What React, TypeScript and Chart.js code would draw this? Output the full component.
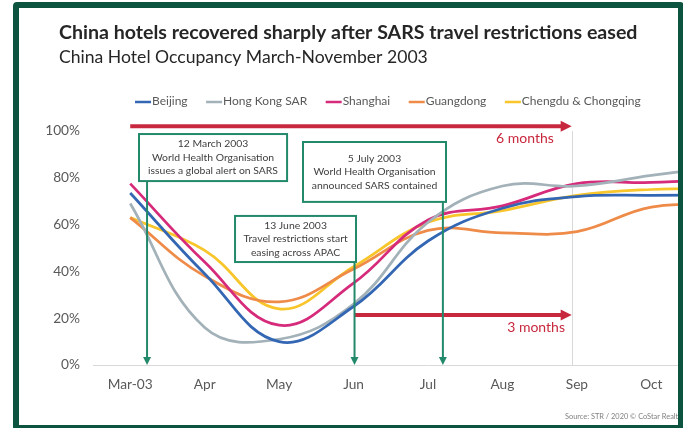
import React, { useEffect, useRef } from 'react';
import { Chart, registerables } from 'chart.js';

Chart.register(...registerables);

// ---------------- data ----------------
const months = ['Mar-03', 'Apr', 'May', 'Jun', 'Jul', 'Aug', 'Sep', 'Oct', 'Nov'];
const beijing = [73.5, 39, 10, 25, 53, 67, 72, 72.5, 72.6];
const hongKong = [69, 16, 11, 26, 61, 76.5, 76.5, 81, 85];
const shanghai = [77.5, 44, 17, 35, 62, 68, 77.5, 78, 79.5];
const guangdong = [63, 38, 27, 41, 57.5, 56.5, 57, 67.5, 68];
const chengdu = [63, 49, 24, 42, 61, 66, 72.5, 75, 75.5];
const seriesNames = ['Beijing', 'Hong Kong SAR', 'Shanghai', 'Guangdong', 'Chengdu & Chongqing'];
const seriesValues = [beijing, hongKong, shanghai, guangdong, chengdu];
const yTickStep = 20;

const titleText = 'China hotels recovered sharply after SARS travel restrictions eased';
const subtitleText = 'China Hotel Occupancy March-November 2003';
const sourceText = 'Source: STR / 2020 \u00a9 CoStar Realty Information, Inc.';

// event notes: [x (category index), y (%)] anchors
const noteLines = [
  ['12 March 2003', 'World Health Organisation', 'issues a global alert on SARS'],
  ['5 July 2003', 'World Health Organisation', 'announced SARS contained'],
  ['13 June 2003', 'Travel restrictions start', 'easing across APAC'],
];
const noteBoxes = [
  { x1: 0.118, y1: 98.7, x2: 2.107, y2: 78.6, arrowX: 0.226 },
  { x1: 2.321, y1: 95.3, x2: 4.242, y2: 69.7, arrowX: 4.2 },
  { x1: 1.408, y1: 63.7, x2: 3.033, y2: 44.0, arrowX: 3.013 },
];
const spanLabels = ['6 months', '3 months'];
const spans = [
  { from: 0, to: 5.93, y: 102, labelX: 5.69, labelY: 96.6 },
  { from: 3.013, to: 5.93, y: 21.4, labelX: 5.84, labelY: 16.2 },
];
const markerX = 5.93;

// ---------------- styles ----------------
const COLORS = ['#3467b3', '#a3b1b8', '#d62a7b', '#ef8b48', '#f8c52a'];
const GREEN = '#23896b';
const RED = '#c8283e';
const FONT = 'Lato, "Open Sans", sans-serif';
const CANVAS_W = 770;
const CANVAS_H = 428;

function arrow(ctx: CanvasRenderingContext2D, x1: number, y1: number, x2: number, y2: number, color: string, w: number, headLen: number, headHalf: number) {
  const ang = Math.atan2(y2 - y1, x2 - x1);
  const bx = x2 - Math.cos(ang) * headLen;
  const by = y2 - Math.sin(ang) * headLen;
  ctx.save();
  ctx.strokeStyle = color;
  ctx.fillStyle = color;
  ctx.lineWidth = w;
  ctx.beginPath();
  ctx.moveTo(x1, y1);
  ctx.lineTo(bx + Math.cos(ang), by + Math.sin(ang));
  ctx.stroke();
  ctx.beginPath();
  ctx.moveTo(x2, y2);
  ctx.lineTo(bx - Math.sin(ang) * headHalf, by + Math.cos(ang) * headHalf);
  ctx.lineTo(bx + Math.sin(ang) * headHalf, by - Math.cos(ang) * headHalf);
  ctx.closePath();
  ctx.fill();
  ctx.restore();
}

function fitFont(ctx: CanvasRenderingContext2D, text: string, weight: string, target: number) {
  ctx.font = `${weight} 20px ${FONT}`;
  const w = ctx.measureText(text).width;
  return (20 * target) / w;
}

const notesPlugin = {
  id: 'notes',
  beforeDatasetsDraw(chart: any) {
    const { ctx, scales } = chart;
    const x = scales.x, y = scales.y;
    const px = Math.round(x.getPixelForValue(markerX)) + 0.5;
    ctx.save();
    ctx.strokeStyle = '#d9d9d9';
    ctx.lineWidth = 1;
    ctx.beginPath();
    ctx.moveTo(px, y.getPixelForValue(100));
    ctx.lineTo(px, y.getPixelForValue(0));
    ctx.stroke();
    ctx.restore();
  },
  afterDatasetsDraw(chart: any) {
    const { ctx, scales } = chart;
    const x = scales.x, y = scales.y;
    const y0 = y.getPixelForValue(0);
    // red spans
    spans.forEach((s, i) => {
      const yy = y.getPixelForValue(s.y);
      arrow(ctx, x.getPixelForValue(s.from), yy, x.getPixelForValue(s.to), yy, RED, 4, 11, 5.5);
      ctx.save();
      ctx.fillStyle = RED;
      ctx.font = `14px ${FONT}`;
      ctx.textAlign = 'right';
      ctx.textBaseline = 'middle';
      ctx.fillText(spanLabels[i], x.getPixelForValue(s.labelX), y.getPixelForValue(s.labelY));
      ctx.restore();
    });
    // green notes
    noteBoxes.forEach((b, i) => {
      const l = x.getPixelForValue(b.x1), r = x.getPixelForValue(b.x2);
      const t = y.getPixelForValue(b.y1), btm = y.getPixelForValue(b.y2);
      const ax = x.getPixelForValue(b.arrowX);
      arrow(ctx, ax, btm, ax, y0, GREEN, 2, 8, 4);
      ctx.save();
      ctx.fillStyle = '#ffffff';
      ctx.fillRect(l, t, r - l, btm - t);
      ctx.strokeStyle = GREEN;
      ctx.lineWidth = 2;
      ctx.strokeRect(l, t, r - l, btm - t);
      ctx.fillStyle = '#404040';
      ctx.font = `10.4px ${FONT}`;
      ctx.textAlign = 'center';
      ctx.textBaseline = 'middle';
      const cx = (l + r) / 2, cy = (t + btm) / 2;
      const lh = 13.5;
      noteLines[i].forEach((line, k) => {
        ctx.fillText(line, cx, cy + (k - 1) * lh);
      });
      ctx.restore();
    });
  },
  afterDraw(chart: any) {
    const { ctx } = chart;
    ctx.save();
    // title
    ctx.fillStyle = '#262626';
    ctx.textAlign = 'left';
    ctx.textBaseline = 'alphabetic';
    const ts = fitFont(ctx, titleText, 'bold', 579);
    ctx.font = `bold ${ts}px ${FONT}`;
    ctx.fillText(titleText, 59, 38.5);
    const ss = fitFont(ctx, subtitleText, 'normal', 369);
    ctx.font = `normal ${ss}px ${FONT}`;
    ctx.fillText(subtitleText, 59, 63);
    // legend
    ctx.font = `12px ${FONT}`;
    ctx.textBaseline = 'middle';
    let lx = 135;
    const ly = 102;
    seriesNames.forEach((name, i) => {
      ctx.strokeStyle = COLORS[i];
      ctx.lineWidth = 2.5;
      ctx.beginPath();
      ctx.moveTo(lx, ly);
      ctx.lineTo(lx + 16, ly);
      ctx.stroke();
      ctx.fillStyle = '#595959';
      ctx.fillText(name, lx + 17, ly - 0.5);
      lx += 17 + ctx.measureText(name).width + 18.5;
    });
    // source
    ctx.font = `7.4px ${FONT}`;
    ctx.fillStyle = '#808080';
    ctx.fillText(sourceText, 565, 417);
    ctx.restore();
  },
};

export default function App() {
  const ref = useRef<HTMLCanvasElement>(null);
  useEffect(() => {
    const canvas = ref.current;
    if (!canvas) return;
    const chart = new Chart(canvas, {
      type: 'line',
      data: {
        labels: months,
        datasets: seriesNames.map((name, i) => ({
          label: name,
          data: seriesValues[i],
          borderColor: COLORS[i],
          backgroundColor: COLORS[i],
          borderWidth: 2.75,
          pointRadius: 0,
          tension: 0.4,
          fill: false,
        })),
      },
      options: {
        animation: false,
        responsive: false,
        devicePixelRatio: 1,
        layout: { padding: { top: 131, left: 0, right: 7, bottom: 0 } },
        plugins: {
          legend: { display: false },
          tooltip: { enabled: false },
          title: { display: false },
        },
        scales: {
          x: {
            offset: true,
            grid: { display: false, drawTicks: false },
            border: { display: true, color: '#d9d9d9', width: 1 },
            ticks: {
              color: '#595959',
              font: { family: FONT, size: 13.7 },
              padding: 11,
              maxRotation: 0,
              autoSkip: false,
            },
            afterFit: (s: any) => {
              s.height = 63;
              s.paddingLeft = 0;
              s.paddingRight = 0;
            },
          },
          y: {
            min: 0,
            max: 100,
            grid: { display: false, drawTicks: false },
            border: { display: false },
            ticks: {
              stepSize: yTickStep,
              callback: (v: any) => `${v}%`,
              color: '#595959',
              font: { family: FONT, size: 13.7 },
              padding: 13,
            },
            afterFit: (s: any) => {
              s.width = 93;
              s.paddingTop = 0;
              s.paddingBottom = 0;
            },
          },
        },
      },
      plugins: [notesPlugin],
    });
    return () => chart.destroy();
  }, []);

  return (
    <div
      style={{
        position: 'fixed',
        left: 0,
        top: 0,
        width: 683,
        height: 428,
        overflow: 'hidden',
        background: '#ffffff',
      }}
    >
      <canvas
        ref={ref}
        width={CANVAS_W}
        height={CANVAS_H}
        style={{ position: 'absolute', left: 0, top: 0, width: CANVAS_W, height: CANVAS_H }}
      />
      <div
        style={{
          position: 'absolute',
          left: 13,
          top: 2,
          width: 671,
          height: 429,
          border: '6px solid #0c5340',
          borderRadius: 4,
          boxSizing: 'border-box',
          pointerEvents: 'none',
        }}
      />
    </div>
  );
}
